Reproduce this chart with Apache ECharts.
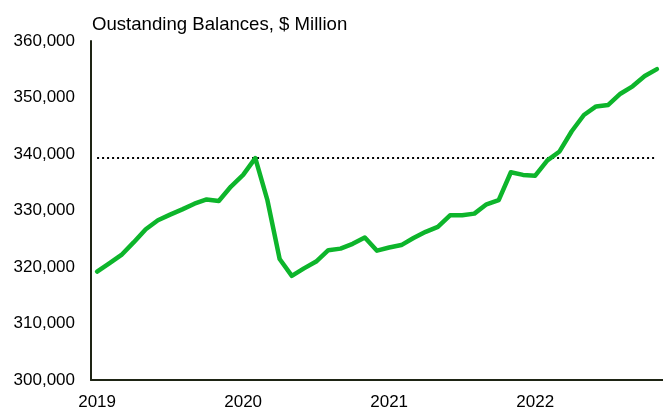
<!DOCTYPE html>
<html>
<head>
<meta charset="utf-8">
<script src="https://cdn.jsdelivr.net/npm/echarts@6/dist/echarts.min.js"></script>
<style>
html,body{margin:0;padding:0;background:#fff;}
#chart{width:663px;height:411px;}
</style>
</head>
<body>
<div id="chart"></div>
<script>
var categories = [
  "Jan 2019","Feb 2019","Mar 2019","Apr 2019","May 2019","Jun 2019","Jul 2019","Aug 2019","Sep 2019","Oct 2019","Nov 2019","Dec 2019",
  "Jan 2020","Feb 2020","Mar 2020","Apr 2020","May 2020","Jun 2020","Jul 2020","Aug 2020","Sep 2020","Oct 2020","Nov 2020","Dec 2020",
  "Jan 2021","Feb 2021","Mar 2021","Apr 2021","May 2021","Jun 2021","Jul 2021","Aug 2021","Sep 2021","Oct 2021","Nov 2021","Dec 2021",
  "Jan 2022","Feb 2022","Mar 2022","Apr 2022","May 2022","Jun 2022","Jul 2022","Aug 2022","Sep 2022","Oct 2022","Nov 2022"
];
var balances = [
  319200, 320650, 322130, 324350, 326690, 328270, 329270, 330200, 331200, 331960, 331680, 334240,
  336300, 339280, 331780, 321420, 318440, 319750, 320960, 322980, 323250, 324100, 325230, 322890,
  323450, 323880, 325120, 326230, 327110, 329150, 329150, 329450, 331100, 331850, 336770, 336300,
  336170, 338870, 340450, 344030, 346900, 348420, 348680, 350670, 351980, 353800, 355030
];
var yearLabels = ["2019", "2020", "2021", "2022"];
var referenceLevel = 339250;
var titleText = "Oustanding Balances, $ Million";

var chart = echarts.init(document.getElementById('chart'), null, {renderer: 'canvas'});
var font = 'Liberation Sans, Arial, sans-serif';
chart.setOption({
  animation: false,
  backgroundColor: '#ffffff',
  title: {
    text: titleText,
    left: 87,
    top: 10,
    textStyle: {fontFamily: font, fontSize: 18.6, fontWeight: 'normal', color: '#000000'}
  },
  grid: {left: 91, top: 41, width: 574, height: 341.7, containLabel: false},
  xAxis: {
    type: 'category',
    data: categories,
    boundaryGap: true,
    axisLine: {show: true, lineStyle: {color: '#1e2414', width: 2}},
    axisTick: {show: false},
    splitLine: {show: false},
    axisLabel: {
      interval: 0,
      margin: 14,
      fontFamily: font,
      fontSize: 17,
      color: '#000000',
      formatter: function (v, i) {
        return (i % 12 === 0) ? yearLabels[i / 12] : '';
      }
    }
  },
  yAxis: {
    type: 'value',
    min: 300000,
    max: 360000,
    interval: 10000,
    axisLine: {show: true, lineStyle: {color: '#1e2414', width: 2}},
    axisTick: {show: false},
    splitLine: {show: false},
    axisLabel: {
      margin: 16,
      fontFamily: font,
      fontSize: 17,
      color: '#000000',
      formatter: function (v) {
        return v.toString().replace(/\B(?=(\d{3})+(?!\d))/g, ',');
      }
    }
  },
  series: [{
    type: 'line',
    data: balances,
    symbol: 'none',
    smooth: false,
    lineStyle: {color: '#0db52b', width: 4.5, join: 'round', cap: 'round'},
    itemStyle: {color: '#0db52b'},
    z: 3,
    markLine: {
      silent: true,
      symbol: ['none', 'none'],
      label: {show: false},
      lineStyle: {color: '#000000', width: 2, type: [2, 3]},
      data: [[
        {coord: [0, referenceLevel]},
        {coord: [categories.length - 1, referenceLevel]}
      ]],
      z: 2
    }
  }]
});
</script>
</body>
</html>
